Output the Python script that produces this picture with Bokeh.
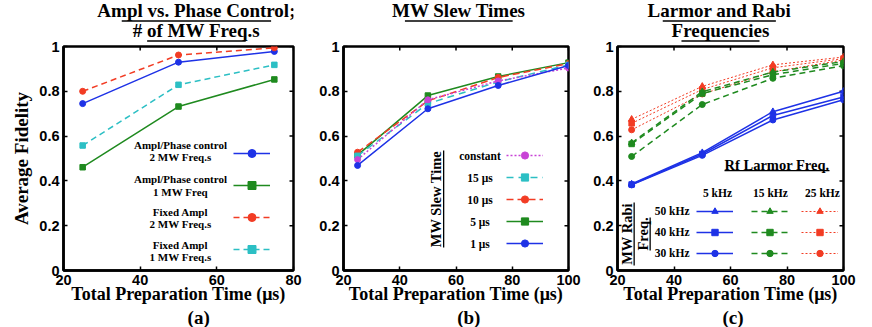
import math
from bokeh.plotting import figure
from bokeh.models import (Range1d, FixedTicker, CustomJSTickFormatter, Label,
                          BoxAnnotation, Legend, LegendItem)
from bokeh.core.properties import value
from bokeh.layouts import row, column
from bokeh.embed import file_html
from bokeh.resources import INLINE

# ---------------- data ----------------
a_time = [25, 50, 75]
a_ampl_phase_2mw = [0.745, 0.930, 0.978]
a_ampl_phase_1mw = [0.461, 0.732, 0.853]
a_fixed_2mw = [0.800, 0.962, 0.994]
a_fixed_1mw = [0.558, 0.829, 0.918]

b_time = [25, 50, 75, 100]
b_constant = [0.495, 0.762, 0.846, 0.904]
b_15us = [0.512, 0.745, 0.842, 0.918]
b_10us = [0.528, 0.757, 0.862, 0.924]
b_5us = [0.515, 0.781, 0.866, 0.928]
b_1us = [0.469, 0.722, 0.826, 0.915]

c_time = [25, 50, 75, 100]
c_5k_50 = [0.386, 0.526, 0.709, 0.800]
c_5k_40 = [0.384, 0.520, 0.692, 0.775]
c_5k_30 = [0.382, 0.514, 0.672, 0.762]
c_15k_50 = [0.570, 0.798, 0.886, 0.933]
c_15k_40 = [0.565, 0.790, 0.874, 0.925]
c_15k_30 = [0.509, 0.741, 0.858, 0.914]
c_25k_50 = [0.675, 0.822, 0.918, 0.953]
c_25k_40 = [0.657, 0.808, 0.905, 0.946]
c_25k_30 = [0.628, 0.788, 0.887, 0.940]

y_ticks = [0, 0.2, 0.4, 0.6, 0.8, 1.0]
a_xticks = [20, 40, 60, 80]
bc_xticks = [20, 40, 60, 80, 100]

XLABEL = "Total Preparation Time (μs)"
YLABEL = "Average Fidelity"

BLUE = "#1e32e6"
GREEN = "#1f8a1f"
RED = "#f23c24"
CYAN = "#2cbfc4"
MAGENTA = "#c843d6"

SERIF = "Liberation Serif"
SANS = "Liberation Sans"

TOP_H = 44      # title strip height
OVER = 8        # overlap of the main figure into the title strip
BOT_H = 19      # caption strip height
FH = 224        # frame height
FB = 270        # page y of frame bottom


def style_axis(ax, ticks):
    ax.ticker = FixedTicker(ticks=ticks)
    ax.axis_line_color = "black"
    ax.axis_line_width = 2.5
    ax.major_tick_in = 4
    ax.major_tick_out = 0
    ax.major_tick_line_width = 1.5
    ax.major_tick_line_color = "black"
    ax.minor_tick_line_color = None
    ax.major_label_text_font = SANS
    ax.major_label_text_font_style = "bold"
    ax.major_label_text_font_size = "14.5px"
    ax.major_label_text_color = "black"
    ax.axis_label_text_color = "black"
    ax.axis_label_text_font = SERIF
    ax.axis_label_text_font_style = "bold"


def make_fig(xmax, xticks, frame_w, left, right, ylabel=None):
    p = figure(frame_width=frame_w, frame_height=FH,
               x_range=Range1d(20, xmax), y_range=Range1d(0, 1),
               output_backend="svg", toolbar_location=None,
               min_border_left=left, min_border_right=right,
               min_border_top=2 + OVER, min_border_bottom=38,
               margin=(-OVER, 0, 0, 0),
               background_fill_color="white", border_fill_alpha=0,
               outline_line_color="black", outline_line_width=2.5)
    p.grid.visible = False
    style_axis(p.xaxis[0], xticks)
    style_axis(p.yaxis[0], y_ticks)
    p.yaxis[0].formatter = CustomJSTickFormatter(code="return tick.toFixed(1).replace(/\\.0$/, '');")
    p.xaxis[0].major_label_standoff = 4
    p.yaxis[0].major_label_standoff = 4
    p.xaxis[0].axis_label = XLABEL
    p.xaxis[0].axis_label_text_font_size = "18px"
    p.xaxis[0].axis_label_standoff = -4
    if ylabel:
        p.yaxis[0].axis_label = ylabel
        p.yaxis[0].axis_label_text_font_size = "19px"
        p.yaxis[0].axis_label_standoff = 4
    # inward ticks on the top and right edges of the frame
    p.ray(x=xticks, y=[1] * len(xticks), length=4, length_units="screen",
          angle=-math.pi / 2, line_color="black", line_width=1.5)
    p.ray(x=[xmax] * len(y_ticks), y=y_ticks, length=4, length_units="screen",
          angle=math.pi, line_color="black", line_width=1.5)
    return p


def strip(w, h):
    s = figure(width=w, height=h, x_range=Range1d(0, w), y_range=Range1d(h, 0),
               min_border=0, outline_line_color=None, toolbar_location=None,
               output_backend="svg", x_axis_location=None, y_axis_location=None,
               background_fill_alpha=0, border_fill_alpha=0)
    s.grid.visible = False
    return s


def stext(s, t, x, y, size, align="center"):
    s.add_layout(Label(x=x, y=y, text=t, text_align=align, text_baseline="middle",
                       text_font=SERIF, text_font_style="bold",
                       text_font_size=f"{size}px", text_color="black"))


def sline(s, x0, x1, y0, y1):
    s.add_layout(BoxAnnotation(left=x0, right=x1, top=y0, bottom=y1,
                               fill_color="black", fill_alpha=1.0,
                               line_color=None, line_alpha=0))


def txt(p, s, px, py, fl, size, align="center", angle=0.0):
    p.add_layout(Label(x=px - fl, y=FB - py, x_units="screen", y_units="screen",
                       text=s, text_align=align, text_baseline="middle", angle=angle,
                       text_font=SERIF, text_font_style="bold",
                       text_font_size=f"{size}px", text_color="black"))


def uline(p, x0, x1, y0, y1, fl):
    p.add_layout(BoxAnnotation(left=x0 - fl, right=x1 - fl,
                               bottom=FB - y1, top=FB - y0,
                               left_units="screen", right_units="screen",
                               top_units="screen", bottom_units="screen",
                               fill_color="black", fill_alpha=1.0,
                               line_color=None, line_alpha=0))


def series(p, x, y, color, marker, dash="solid", lw=1.5, size=6):
    l = p.line(x, y, line_color=color, line_width=lw, line_dash=dash)
    s = p.scatter(x, y, marker=marker, size=size, fill_color=color, line_color=color)
    return [l, s]


def legend(p, groups, vx, vy, gh, sp, gw=37):
    items = [LegendItem(label=value(" "), renderers=g) for g in groups]
    leg = Legend(items=items, location=(vx, vy), orientation="vertical",
                 glyph_width=gw, glyph_height=gh, spacing=sp, padding=0, margin=0,
                 label_width=0, label_standoff=0, label_height=gh,
                 label_text_font_size="10px",
                 background_fill_alpha=0, border_line_alpha=0)
    p.add_layout(leg)


# title baselines 16.7 / 36 -> "middle" positions
T1, T2 = 10.4, 29.7
U1, U2 = (19.8, 21.2), (39.8, 41.2)
CAP_Y = 316.6 - 308

# ---------------- panel (a) ----------------
OXA, WA, FLA = 0, 308, 63
pa = make_fig(80, a_xticks, 230, 63, 15, ylabel=YLABEL)
ga1 = series(pa, a_time, a_ampl_phase_2mw, BLUE, "circle")
ga2 = series(pa, a_time, a_ampl_phase_1mw, GREEN, "square", size=5.5)
ga3 = series(pa, a_time, a_fixed_2mw, RED, "circle", dash="6 4")
ga4 = series(pa, a_time, a_fixed_1mw, CYAN, "square", dash="6 4", size=5.5)
legend(pa, [ga1, ga2, ga3, ga4], 170, 11, 20, 12)
a_leg_lines = [("Ampl/Phase control", 144.3), ("2 MW Freq.s", 156.2),
               ("Ampl/Phase control", 178.3), ("1 MW Freq", 191.5),
               ("Fixed Ampl", 211.0), ("2 MW Freq.s", 223.0),
               ("Fixed Ampl", 244.0), ("1 MW Freq.s", 256.7)]
for s, yy in a_leg_lines:
    txt(pa, s, 180, yy, FLA, 11)
ta = strip(WA, TOP_H)
stext(ta, "Ampl vs. Phase Control;", 178 - OXA, T1, 19)
stext(ta, "# of MW Freq.s", 178 - OXA, T2, 19)
sline(ta, 78 - OXA, 278 - OXA, *U1)
sline(ta, 112 - OXA, 244 - OXA, *U2)
ba = strip(WA, BOT_H)
stext(ba, "(a)", 181 - OXA, CAP_Y, 19)

# ---------------- panel (b) ----------------
OXB, WB, FLB = 308, 282, 343
pb = make_fig(100, bc_xticks, 225, 35, 22)
gb5 = series(pb, b_time, b_5us, GREEN, "square", size=5.5)
gb10 = series(pb, b_time, b_10us, RED, "circle", dash="7 4")
gb15 = series(pb, b_time, b_15us, CYAN, "square", dash="7 5", size=5.5)
gbc = series(pb, b_time, b_constant, MAGENTA, "circle", dash="2 2")
gb1 = series(pb, b_time, b_1us, BLUE, "circle")
legend(pb, [gbc, gb15, gb10, gb5, gb1], 163, 18, 18, 4)
for s, yy in [("constant", 155), ("15 μs", 177), ("10 μs", 199.5), ("5 μs", 221), ("1 μs", 243)]:
    txt(pb, s, 479.5, yy, FLB, 11.5)
txt(pb, "MW Slew Time", 435.5, 198.5, FLB, 14.5, angle=math.pi / 2)
uline(pb, 442.5, 443.8, 150, 247, FLB)
tb = strip(WB, TOP_H)
stext(tb, "MW Slew Times", 452.5 - OXB, T1 - 0.3, 19)
sline(tb, 385 - OXB, 520 - OXB, *U1)
bb = strip(WB, BOT_H)
stext(bb, "(b)", 465 - OXB, CAP_Y, 19)

# ---------------- panel (c) ----------------
OXC, WC, FLC = 590, 282, 611
pc = make_fig(100, bc_xticks, 226, 21, 35)
red_d = "2 2"
g25 = [series(pc, c_time, c_25k_50, RED, "triangle", dash=red_d, lw=1, size=6.5),
       series(pc, c_time, c_25k_40, RED, "square", dash=red_d, lw=1, size=5.5),
       series(pc, c_time, c_25k_30, RED, "circle", dash=red_d, lw=1, size=6)]
g15 = [series(pc, c_time, c_15k_50, GREEN, "triangle", dash="6 4", size=6.5),
       series(pc, c_time, c_15k_40, GREEN, "square", dash="6 4", size=5.5),
       series(pc, c_time, c_15k_30, GREEN, "circle", dash="6 4", size=6)]
g5 = [series(pc, c_time, c_5k_50, BLUE, "triangle", size=6.5),
      series(pc, c_time, c_5k_40, BLUE, "square", size=5.5),
      series(pc, c_time, c_5k_30, BLUE, "circle", size=6)]
legend(pc, g5, 79, 9, 16, 5)
legend(pc, g15, 134, 9, 16, 5)
legend(pc, g25, 184, 9, 16, 5)
txt(pc, "Rf Larmor Freq.", 770.5, 164, FLC, 14.5)
uline(pc, 718, 823, 169.5, 170.8, FLC)
for s, xx in [("5 kHz", 711), ("15 kHz", 764), ("25 kHz", 816)]:
    txt(pc, s, xx, 192.7, FLC, 11.5)
for s, yy in [("50 kHz", 210.7), ("40 kHz", 231.7), ("30 kHz", 252.7)]:
    txt(pc, s, 683, yy, FLC, 11.5, align="right")
txt(pc, "MW Rabi", 620.5, 233.5, FLC, 14.5, angle=math.pi / 2)
uline(pc, 627, 628.3, 202, 265, FLC)
txt(pc, "Freq.", 636.5, 233.5, FLC, 14.5, angle=math.pi / 2)
uline(pc, 643, 644.3, 217, 250, FLC)
tc = strip(WC, TOP_H)
stext(tc, "Larmor and Rabi", 720.5 - OXC, T1, 19)
stext(tc, "Frequencies", 722 - OXC, T2, 19)
sline(tc, 648 - OXC, 793 - OXC, *U1)
sline(tc, 672 - OXC, 772 - OXC, *U2)
bc = strip(WC, BOT_H)
stext(bc, "(c)", 738 - OXC, CAP_Y, 19)

layout = row(column(ta, pa, ba, spacing=0),
             column(tb, pb, bb, spacing=0),
             column(tc, pc, bc, spacing=0), spacing=0)
open("out.html", "w").write(file_html(layout, INLINE))
